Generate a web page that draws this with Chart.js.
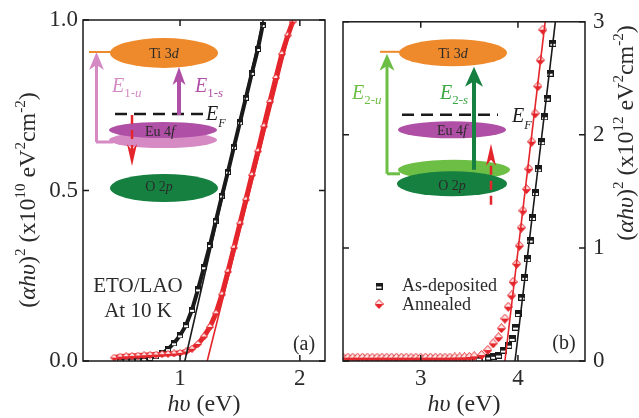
<!DOCTYPE html>
<html>
<head>
<meta charset="utf-8">
<script src="https://cdn.jsdelivr.net/npm/chart.js@4.4.1/dist/chart.umd.min.js"></script>
<style>
  html, body { margin: 0; padding: 0; background: #fff; }
  #wrap { position: relative; width: 639px; height: 418px; overflow: hidden; }
  #wrap canvas { position: absolute; top: 0; }
  #chartA { left: 0; }
  #chartB { left: 335px; }
</style>
</head>
<body>
<div id="wrap">
  <canvas id="chartA" width="335" height="418"></canvas>
  <canvas id="chartB" width="304" height="418"></canvas>
</div>
<script>
// ---- panel (a): ETO/LAO at 10 K, (ahv)^2 in 1e10 eV^2 cm^-2 ----
const energyDepA = [0.50, 0.55, 0.60, 0.65, 0.70, 0.75, 0.80, 0.85, 0.90, 0.95, 1.00, 1.05, 1.10,
  1.15, 1.20, 1.25, 1.30, 1.35, 1.40, 1.45, 1.50, 1.55, 1.60, 1.65, 1.69];
const absDepA = [0.003, 0.004, 0.004, 0.005, 0.006, 0.009, 0.014, 0.022, 0.035, 0.052, 0.075, 0.105, 0.150,
  0.210, 0.275, 0.340, 0.412, 0.485, 0.555, 0.628, 0.700, 0.772, 0.845, 0.915, 0.985];
const energyAnnA = [0.45, 0.50, 0.55, 0.60, 0.65, 0.70, 0.75, 0.80, 0.85, 0.90, 0.95, 1.00, 1.05, 1.10,
  1.15, 1.20, 1.25, 1.30, 1.35, 1.40, 1.45, 1.50, 1.55, 1.60, 1.65, 1.70, 1.75, 1.80, 1.85, 1.90, 1.94];
const absAnnA = [0.010, 0.013, 0.014, 0.015, 0.016, 0.017, 0.018, 0.019, 0.020, 0.021, 0.022, 0.024, 0.028, 0.036,
  0.050, 0.072, 0.100, 0.140, 0.195, 0.262, 0.332, 0.403, 0.473, 0.545, 0.615, 0.688, 0.760, 0.830, 0.900, 0.955, 0.995];
const fitEnergyDepA = [1.04, 1.695];
const fitAbsDepA = [0, 1.0];
const fitEnergyAnnA = [1.227, 1.94];
const fitAbsAnnA = [0, 1.0];
const ticksXA = [1, 2];
const ticksYA = [0, 0.5, 1.0];

// ---- panel (b): (ahv)^2 in 1e12 eV^2 cm^-2 ----
const energyDepB = [2.2, 2.3, 2.4, 2.5, 2.6, 2.7, 2.8, 2.9, 3.0, 3.1, 3.2, 3.3, 3.4, 3.5, 3.6, 3.7, 3.75,
  3.8, 3.85, 3.905, 3.94, 3.975, 4.005, 4.04, 4.07, 4.1, 4.125, 4.15, 4.18, 4.21, 4.245, 4.275, 4.3, 4.33, 4.36];
const absDepB = [0.02, 0.02, 0.02, 0.02, 0.02, 0.02, 0.02, 0.02, 0.02, 0.02, 0.02, 0.02, 0.02, 0.02, 0.025, 0.035, 0.042,
  0.053, 0.097, 0.14, 0.2, 0.3, 0.42, 0.565, 0.74, 0.905, 1.07, 1.27, 1.49, 1.7, 1.94, 2.16, 2.325, 2.545, 2.81];
const energyAnnB = [2.2, 2.25, 2.3, 2.35, 2.4, 2.45, 2.5, 2.55, 2.6, 2.65, 2.7, 2.75, 2.8, 2.85, 2.9, 2.95,
  3.0, 3.05, 3.1, 3.15, 3.2, 3.25, 3.3, 3.35, 3.4, 3.45, 3.5, 3.55,
  3.626, 3.69, 3.745, 3.8, 3.83, 3.866, 3.9, 3.935, 3.95, 3.987, 4.015, 4.035, 4.052, 4.088, 4.112, 4.142,
  4.177, 4.205, 4.23, 4.256];
const absAnnB = [0.03, 0.03, 0.03, 0.03, 0.03, 0.03, 0.03, 0.03, 0.03, 0.03, 0.03, 0.03, 0.03, 0.03, 0.03, 0.03,
  0.03, 0.03, 0.03, 0.03, 0.03, 0.03, 0.03, 0.031, 0.032, 0.033, 0.036, 0.042,
  0.053, 0.097, 0.156, 0.21, 0.29, 0.375, 0.48, 0.58, 0.70, 0.86, 1.02, 1.18, 1.33, 1.52, 1.70, 1.94,
  2.19, 2.43, 2.66, 2.93];
const fitEnergyDepB = [3.97, 4.385];
const fitAbsDepB = [0, 3.0];
const fitEnergyAnnB = [3.866, 4.28];
const fitAbsAnnB = [0, 3.0];
const ticksXB = [3, 4];
const ticksYB = [0, 1, 2, 3];

const seriesNames = ['As-deposited', 'Annealed'];

const RED = '#e4252b';
const INK = '#1a1a1a';
const ORANGE = '#ef8a2c';
const MAG = '#b04fa6';
const PINK = '#d58ac4';
const GREEN_D = '#168040';
const GREEN_L = '#6dbe45';
const SERIF = '"Liberation Serif", "DejaVu Serif", serif';

function font(size, italic) {
  return (italic ? 'italic ' : '') + size + 'px ' + SERIF;
}

// segments: [text, size, italic, dy]
function richText(ctx, segs, x, y, align) {
  let w = 0;
  segs.forEach(s => { ctx.font = font(s[1], s[2]); w += ctx.measureText(s[0]).width; });
  let cx = align === 'left' ? x : x - w / 2;
  ctx.textAlign = 'left';
  ctx.textBaseline = 'alphabetic';
  segs.forEach(s => {
    ctx.font = font(s[1], s[2]);
    ctx.fillText(s[0], cx, y + (s[3] || 0));
    cx += ctx.measureText(s[0]).width;
  });
}

function squareMark(s) {
  const c = document.createElement('canvas');
  c.width = c.height = s;
  const g = c.getContext('2d');
  g.fillStyle = '#fff'; g.fillRect(0, 0, s, s);
  g.fillStyle = INK; g.fillRect(0, 0, s, Math.ceil(s / 2));
  g.strokeStyle = INK; g.lineWidth = 1; g.strokeRect(0.5, 0.5, s - 1, s - 1);
  return c;
}

function diamondMark(w, h) {
  const c = document.createElement('canvas');
  c.width = w; c.height = h;
  const g = c.getContext('2d');
  const path = () => {
    g.beginPath();
    g.moveTo(w / 2, 0.5); g.lineTo(w - 0.5, h / 2); g.lineTo(w / 2, h - 0.5); g.lineTo(0.5, h / 2);
    g.closePath();
  };
  path(); g.fillStyle = '#fde6e6'; g.fill();
  g.save(); path(); g.clip(); g.fillStyle = RED; g.fillRect(0, h / 2, w, h / 2); g.restore();
  path(); g.strokeStyle = RED; g.lineWidth = 1; g.stroke();
  return c;
}

const sqSmall = squareMark(6);
const sqBig = squareMark(7);
const diaSmall = diamondMark(8, 8);
const diaBig = diamondMark(9, 10);

function pts(xs, ys) {
  return xs.map((x, i) => ({ x: x, y: ys[i] }));
}

function ell(ctx, cx, cy, rx, ry, color) {
  ctx.beginPath();
  ctx.ellipse(cx, cy, rx, ry, 0, 0, Math.PI * 2);
  ctx.fillStyle = color;
  ctx.fill();
}

function seg(ctx, x0, y0, x1, y1, color, lw, dash) {
  ctx.save();
  ctx.strokeStyle = color; ctx.lineWidth = lw;
  if (dash) ctx.setLineDash(dash);
  ctx.beginPath(); ctx.moveTo(x0, y0); ctx.lineTo(x1, y1); ctx.stroke();
  ctx.restore();
}

// vertical arrow, tail at y0, tip at y1
function arrow(ctx, x, y0, y1, color, lw, hw, hl, dash) {
  const dir = y1 < y0 ? -1 : 1;
  seg(ctx, x, y0, x, y1 - dir * hl * 0.7, color, lw, dash);
  ctx.save();
  ctx.fillStyle = color;
  ctx.beginPath();
  ctx.moveTo(x, y1);
  ctx.lineTo(x - hw / 2, y1 - dir * hl);
  ctx.lineTo(x, y1 - dir * hl * 0.72);
  ctx.lineTo(x + hw / 2, y1 - dir * hl);
  ctx.closePath();
  ctx.fill();
  ctx.restore();
}

function levelLabel(ctx, txt, ital, x, y) {
  ctx.fillStyle = '#2a2a2a';
  richText(ctx, [[txt, 14, false], [ital, 14, true]], x, y + 5);
}

function diagramA(ctx, L, T) {
  ell(ctx, L + 81, T + 168, 54, 14, GREEN_D);
  ell(ctx, L + 80, T + 120, 54, 8, PINK);
  ell(ctx, L + 80, T + 110, 54, 8, MAG);
  ell(ctx, L + 81, T + 33, 54, 15, ORANGE);
  seg(ctx, L + 6, T + 32, L + 30, T + 32, ORANGE, 2);
  seg(ctx, L + 13, T + 122, L + 30, T + 122, PINK, 3);
  arrow(ctx, L + 13.5, T + 122, T + 32, PINK, 3, 15, 18);
  seg(ctx, L + 32, T + 94, L + 125, T + 94, INK, 2.5, [12, 7]);
  arrow(ctx, L + 96, T + 95, T + 47, MAG, 4, 13, 18);
  arrow(ctx, L + 49, T + 95, T + 146, RED, 2.5, 10, 22, [9, 6]);
  levelLabel(ctx, 'Ti 3', 'd', L + 81, T + 33);
  levelLabel(ctx, 'Eu 4', 'f', L + 77, T + 111);
  levelLabel(ctx, 'O 2', 'p', L + 76, T + 166);
  ctx.fillStyle = PINK;
  richText(ctx, [['E', 20, true], ['1-', 13, false, 5], ['u', 13, true, 5]], L + 29, T + 72, 'left');
  ctx.fillStyle = MAG;
  richText(ctx, [['E', 20, true], ['1-', 13, false, 5], ['s', 13, true, 5]], L + 112, T + 72, 'left');
  ctx.fillStyle = INK;
  richText(ctx, [['E', 20, true], ['F', 12, true, 7]], L + 123, T + 100, 'left');
}

function diagramB(ctx, L, T) {
  ell(ctx, L + 111, T + 148, 56, 10, GREEN_L);
  ell(ctx, L + 109, T + 162, 55, 12.5, GREEN_D);
  ell(ctx, L + 109, T + 108, 54, 8.5, MAG);
  ell(ctx, L + 110, T + 31, 54, 13.5, ORANGE);
  seg(ctx, L + 37, T + 30, L + 58, T + 30, ORANGE, 2);
  seg(ctx, L + 44, T + 152, L + 57, T + 152, GREEN_L, 3);
  arrow(ctx, L + 44, T + 152, T + 32, GREEN_L, 3, 15, 17);
  seg(ctx, L + 59, T + 93, L + 155, T + 93, INK, 2.5, [12, 7]);
  arrow(ctx, L + 131, T + 148, T + 45, GREEN_D, 4, 18, 20);
  arrow(ctx, L + 148, T + 183, T + 122, RED, 2.5, 10, 22, [9, 6]);
  levelLabel(ctx, 'Ti 3', 'd', L + 110, T + 31);
  levelLabel(ctx, 'Eu 4', 'f', L + 109, T + 108);
  levelLabel(ctx, 'O 2', 'p', L + 109, T + 163);
  ctx.fillStyle = GREEN_L;
  richText(ctx, [['E', 20, true], ['2-', 13, false, 5], ['u', 13, true, 5]], L + 9, T + 77, 'left');
  ctx.fillStyle = '#3da645';
  richText(ctx, [['E', 20, true], ['2-', 13, false, 5], ['s', 13, true, 5]], L + 97, T + 77, 'left');
  ctx.fillStyle = INK;
  richText(ctx, [['E', 20, true], ['F', 12, true, 7]], L + 169, T + 100, 'left');
}

function yTitle(ctx, x, y, exp) {
  ctx.save();
  ctx.translate(x, y);
  ctx.rotate(-Math.PI / 2);
  ctx.fillStyle = '#2a2a2a';
  richText(ctx, [
    ['(', 24, false], ['\u03b1h\u03c5', 24, true], [')', 24, false], ['2', 15, false, -10],
    [' (x10', 24, false], [exp, 15, false, -10], [' eV', 24, false], ['2', 15, false, -10],
    ['cm', 24, false], ['-2', 15, false, -10], [')', 24, false]
  ], 0, 8);
  ctx.restore();
}

function xTitle(ctx, x, y) {
  ctx.fillStyle = '#2a2a2a';
  richText(ctx, [['h\u03c5', 24, true], [' (eV)', 24, false]], x, y);
}

const framePlugin = {
  id: 'frame',
  afterDraw(chart) {
    const { ctx, chartArea: ca, scales } = chart;
    const ys = scales.y;
    ctx.save();
    ctx.strokeStyle = INK;
    ctx.lineWidth = 1.5;
    ctx.strokeRect(ca.left, ca.top, ca.right - ca.left, ca.bottom - ca.top);
    ctx.beginPath();
    scales.x.ticks.forEach(t => {
      const px = scales.x.getPixelForValue(t.value);
      ctx.moveTo(px, ca.bottom); ctx.lineTo(px, ca.bottom - 6);
      ctx.moveTo(px, ca.top); ctx.lineTo(px, ca.top + 6);
    });
    ys.ticks.forEach(t => {
      const py = ys.getPixelForValue(t.value);
      ctx.moveTo(ca.left, py); ctx.lineTo(ca.left + 6, py);
      ctx.moveTo(ca.right, py); ctx.lineTo(ca.right - 6, py);
    });
    ctx.stroke();
    ctx.restore();
  }
};

const panelAPlugin = {
  id: 'panelA',
  afterDraw(chart) {
    const { ctx, chartArea: ca } = chart;
    ctx.save();
    diagramA(ctx, ca.left, ca.top);
    ctx.fillStyle = '#2a2a2a';
    ctx.font = font(21, false);
    ctx.textAlign = 'center';
    ctx.textBaseline = 'middle';
    ctx.fillText('ETO/LAO', 138, 286);
    ctx.fillText('At 10 K', 138, 311);
    ctx.font = font(20, false);
    ctx.fillText('(a)', 304, 345);
    xTitle(ctx, (ca.left + ca.right) / 2, 411);
    yTitle(ctx, 27, 200, '10');
    ctx.restore();
  }
};

const panelBPlugin = {
  id: 'panelB',
  afterDraw(chart) {
    const { ctx, chartArea: ca } = chart;
    ctx.save();
    diagramB(ctx, ca.left, ca.top);
    ctx.drawImage(sqBig, 44 - 3.5, 286 - 3.5);
    ctx.drawImage(diaBig, 44 - 4.5, 304 - 5);
    ctx.fillStyle = '#2a2a2a';
    ctx.font = font(18, false);
    ctx.textAlign = 'left';
    ctx.textBaseline = 'middle';
    ctx.fillText(seriesNames[0], 67, 286);
    ctx.fillText(seriesNames[1], 67, 305);
    ctx.font = font(20, false);
    ctx.textAlign = 'center';
    ctx.fillText('(b)', 229, 344);
    xTitle(ctx, (ca.left + ca.right) / 2, 411);
    yTitle(ctx, 290, 133, '12');
    ctx.restore();
  }
};

function tickAxis(list, fmt, padding, extra) {
  return Object.assign({
    type: 'linear',
    afterBuildTicks: s => { s.ticks = list.map(v => ({ value: v })); },
    grid: { display: false, drawTicks: false },
    border: { display: false },
    ticks: {
      font: { family: SERIF, size: 23 },
      color: '#2a2a2a',
      padding: padding,
      callback: fmt
    }
  }, extra);
}

function fitLine(xs, ys, color) {
  return {
    data: pts(xs, ys), showLine: true, borderColor: color, borderWidth: 1.6,
    pointRadius: 0, tension: 0
  };
}

new Chart(document.getElementById('chartA'), {
  type: 'scatter',
  data: {
    datasets: [
      fitLine(fitEnergyDepA, fitAbsDepA, INK),
      fitLine(fitEnergyAnnA, fitAbsAnnA, RED),
      {
        label: seriesNames[1], data: pts(energyAnnA, absAnnA), showLine: true,
        borderColor: RED, borderWidth: 5, pointStyle: diaSmall, pointRadius: 4
      },
      {
        label: seriesNames[0], data: pts(energyDepA, absDepA), showLine: true,
        borderColor: INK, borderWidth: 4, pointStyle: sqSmall, pointRadius: 3
      }
    ]
  },
  options: {
    responsive: false,
    animation: false,
    events: [],
    layout: { padding: { left: 0, right: 10, top: 20, bottom: 0 } },
    scales: {
      x: tickAxis(ticksXA, v => String(v), 4, { min: 0.19, max: 2.21, afterFit: s => { s.height = 57; } }),
      y: tickAxis(ticksYA, v => v.toFixed(1), 5, { min: 0, max: 1, afterFit: s => { s.width = 83; } })
    },
    plugins: { legend: { display: false }, tooltip: { enabled: false } }
  },
  plugins: [framePlugin, panelAPlugin]
});

new Chart(document.getElementById('chartB'), {
  type: 'scatter',
  data: {
    datasets: [
      fitLine(fitEnergyDepB, fitAbsDepB, INK),
      fitLine(fitEnergyAnnB, fitAbsAnnB, RED),
      {
        label: seriesNames[1], data: pts(energyAnnB, absAnnB),
        pointStyle: diaBig, pointRadius: 5
      },
      {
        label: seriesNames[0], data: pts(energyDepB, absDepB),
        pointStyle: sqBig, pointRadius: 4
      }
    ]
  },
  options: {
    responsive: false,
    animation: false,
    events: [],
    layout: { padding: { left: 8, right: 0, top: 20, bottom: 0 } },
    scales: {
      x: tickAxis(ticksXB, v => String(v), 4, { min: 2.2, max: 4.69, afterFit: s => { s.height = 57; } }),
      y: tickAxis(ticksYB, v => String(v), 8, { position: 'right', min: 0, max: 3, afterFit: s => { s.width = 54; } })
    },
    plugins: { legend: { display: false }, tooltip: { enabled: false } }
  },
  plugins: [framePlugin, panelBPlugin]
});
</script>
</body>
</html>
